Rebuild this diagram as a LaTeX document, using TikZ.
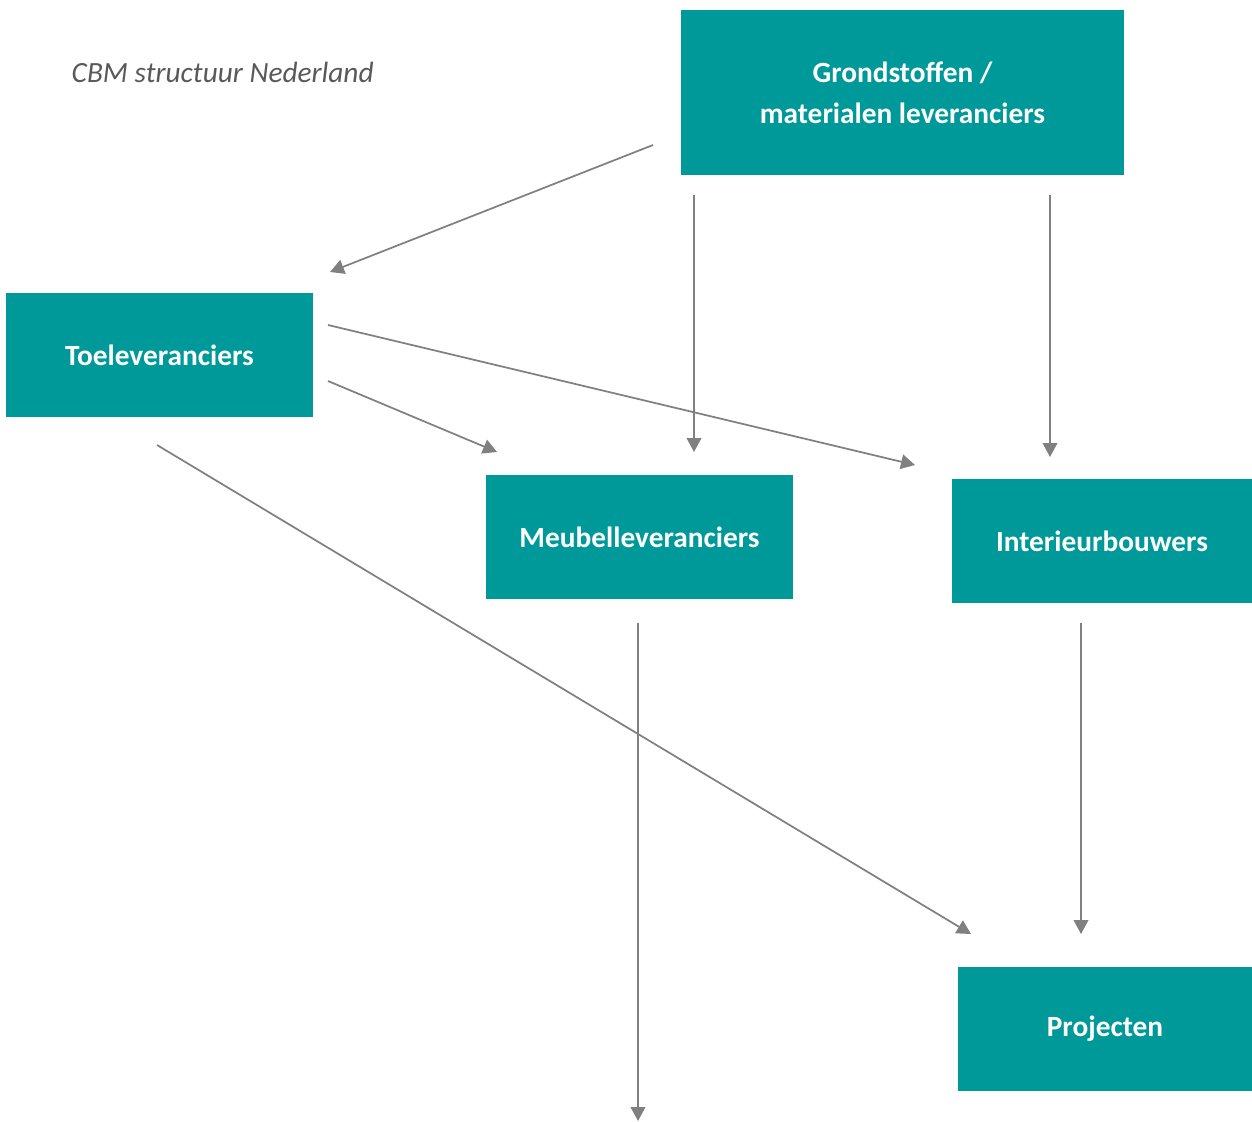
\documentclass[tikz,border=0pt]{standalone}
\usepackage{fontspec}
\setmainfont{Carlito}
\usetikzlibrary{arrows.meta,positioning}
\definecolor{tealbox}{HTML}{009999}
\definecolor{arrowgray}{HTML}{808080}
\definecolor{titlegray}{HTML}{595959}

\begin{document}
\begin{tikzpicture}[
  x=0.75pt, y=-0.75pt,
  >={Triangle[length=10.5pt,width=11pt]},
  chainbox/.style={
    fill=tealbox,
    minimum width=#1,
    minimum height=93pt,
    inner sep=0pt,
    align=center,
    text=white,
    font=\fontsize{22}{31}\selectfont\bfseries
  },
  flow/.style={->, line width=1.3pt, draw=arrowgray}
]
  \useasboundingbox (0,0) rectangle (1252,1121);

  % Title
  \node[anchor=west, text=titlegray, font=\fontsize{22}{26}\selectfont\itshape] (title) at (67,72) {CBM structuur Nederland};

  % Boxes of the chain
  \node[chainbox=332pt, minimum height=124pt] (grond) at (902.5,92.5) {Grondstoffen /\\materialen leveranciers};
  \node[chainbox=230pt] (toe) at (159.5,355) {Toeleveranciers};
  \node[chainbox=230pt] (meubel) at (639.5,537) {Meubelleveranciers};
  \node[chainbox=225pt] (interieur) at (1102,541) {Interieurbouwers};
  \node[chainbox=220.5pt] (project) at (1105,1029) {Projecten};

  % Free ends of the connectors
  \coordinate (g1) at (653,145);
  \coordinate (g2) at (694,195);
  \coordinate (g3) at (1050,195);
  \coordinate (t1) at (330,272);
  \coordinate (t2) at (328,325);
  \coordinate (t3) at (328,381);
  \coordinate (t4) at (157,445);
  \coordinate (m1) at (497,452);
  \coordinate (m2) at (694,452);
  \coordinate (m3) at (638,623);
  \coordinate (m4) at (638,1121);
  \coordinate (i1) at (915,465);
  \coordinate (i2) at (1050,457);
  \coordinate (i3) at (1081,623);
  \coordinate (p1) at (971,934);
  \coordinate (p2) at (1081,934);

  % Connectors
  \draw[flow] (g1) -- (t1);
  \draw[flow] (g2) -- (m2);
  \draw[flow] (g3) -- (i2);
  \draw[flow] (t2) -- (i1);
  \draw[flow] (t3) -- (m1);
  \draw[flow] (t4) -- (p1);
  \draw[flow] (m3) -- (m4);
  \draw[flow] (i3) -- (p2);

\end{tikzpicture}
\end{document}
